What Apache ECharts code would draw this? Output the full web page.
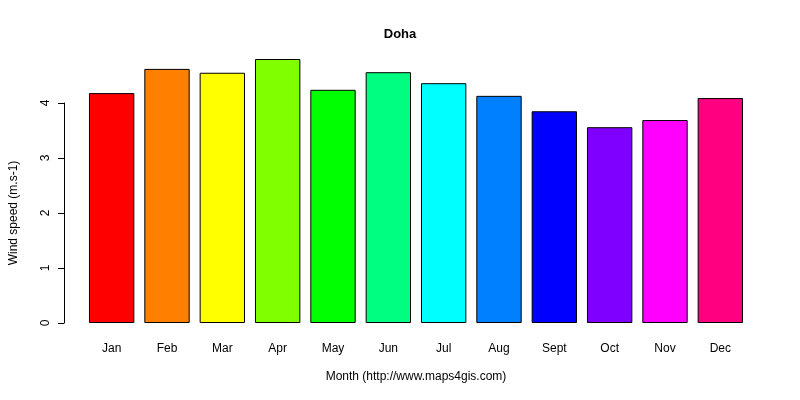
<!DOCTYPE html>
<html><head><meta charset="utf-8">
<script src="https://cdn.jsdelivr.net/npm/echarts@6/dist/echarts.min.js"></script>
<style>html,body{margin:0;padding:0;background:#fff}#c{width:800px;height:400px}</style>
</head><body><div id="c"></div>
<script>
const months = ['Jan','Feb','Mar','Apr','May','Jun','Jul','Aug','Sept','Oct','Nov','Dec'];
const windSpeed = [4.18,4.62,4.55,4.80,4.24,4.56,4.36,4.13,3.85,3.56,3.69,4.09];
const barColors = ['#FF0000','#FF8000','#FFFF00','#80FF00','#00FF00','#00FF80','#00FFFF','#0080FF','#0000FF','#8000FF','#FF00FF','#FF0080'];
const yTicks = [0,1,2,3,4];
const chart = echarts.init(document.getElementById('c'));
const font = 'Liberation Sans, Arial, sans-serif';
chart.setOption({
  animation:false,
  textStyle:{fontFamily:font},
  title:{text:'Doha',left:'center',top:23,textStyle:{fontSize:13,fontWeight:'bold',color:'#000',fontFamily:font}},
  grid:{left:80,right:52,top:103,bottom:77},
  xAxis:{type:'category',data:months,axisLine:{show:false},axisTick:{show:false},
    axisLabel:{color:'#000',fontSize:12,margin:20,fontFamily:font},
    name:'Month (http://www.maps4gis.com)',nameLocation:'middle',nameGap:48,
    nameTextStyle:{color:'#000',fontSize:12,fontFamily:font}},
  yAxis:{type:'value',min:0,max:4,interval:1,offset:20,
    axisLine:{show:true,lineStyle:{color:'#000'}},
    axisTick:{show:true,length:6,lineStyle:{color:'#000'}},
    splitLine:{show:false},
    axisLabel:{rotate:90,color:'#000',fontSize:12,margin:12,fontFamily:font,formatter:v=>yTicks.includes(v)?String(v):''},
    name:'Wind speed (m.s-1)',nameLocation:'middle',nameGap:44,nameRotate:90,
    nameTextStyle:{color:'#000',fontSize:12,fontFamily:font}},
  series:[{type:'bar',clip:false,barCategoryGap:'18%',
    data:windSpeed.map((v,i)=>({value:v,itemStyle:{color:barColors[i]}})),
    itemStyle:{borderColor:'#000',borderWidth:1}}]
});
</script></body></html>
